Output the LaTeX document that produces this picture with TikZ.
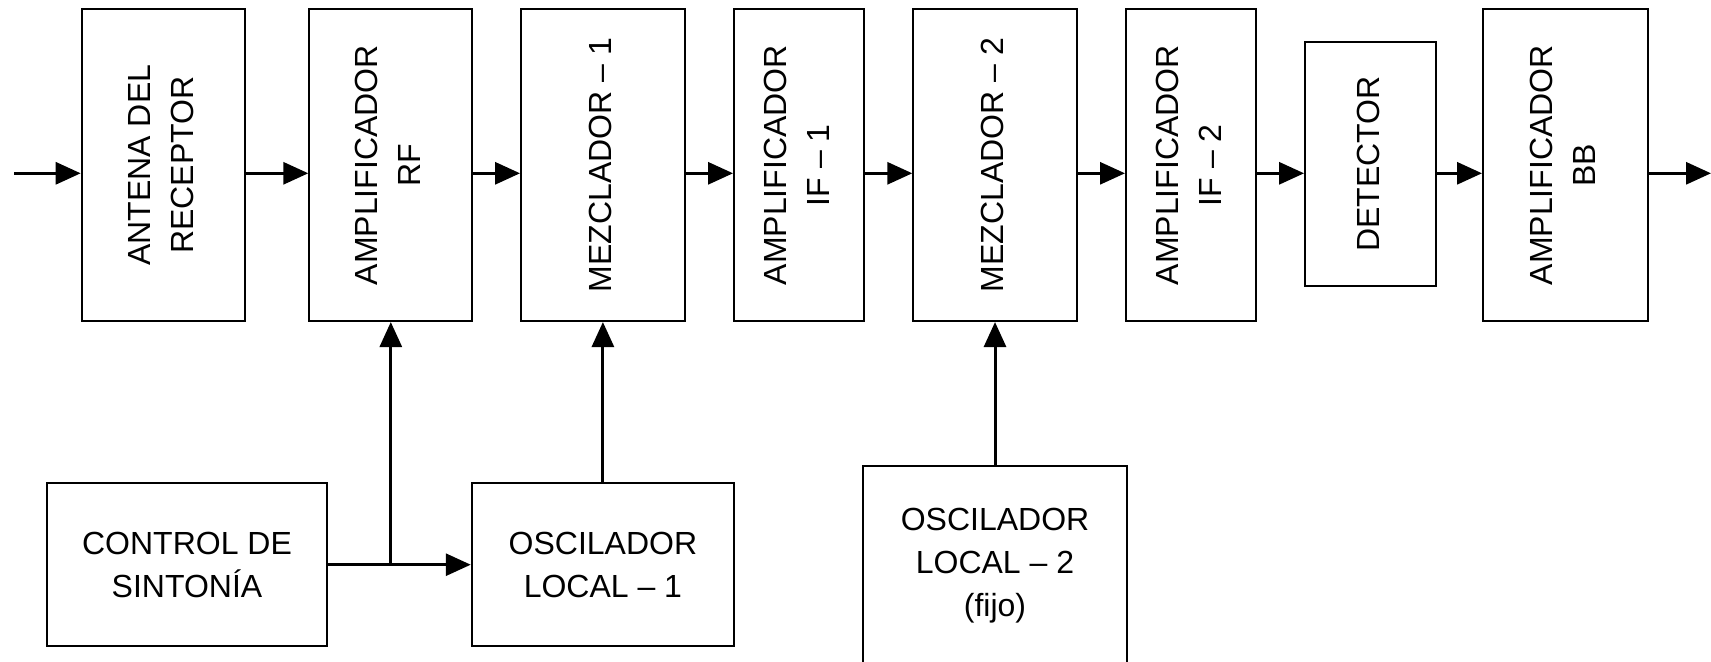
\documentclass[tikz,border=0pt]{standalone}
\usepackage{fontspec}
\setmainfont{Liberation Sans}
\usetikzlibrary{arrows.meta}
\newcommand{\vtext}[1]{\rotatebox{90}{\begin{tabular}{@{}c@{}}#1\end{tabular}}}
\begin{document}
\begin{tikzpicture}[x=0.5pt,y=-0.5pt,
  blk/.style={draw, line width=1pt, inner sep=0pt, align=center,
    font=\fontsize{16}{21.5}\selectfont},
  tall/.style={blk, minimum height=155.85pt},
  conn/.style={line width=1.5pt, -{Triangle[length=12.5pt,width=11pt]}},
  wire/.style={line width=1.5pt}]
\useasboundingbox (0,0) rectangle (1711,662);
\clip (0,0) rectangle (1711,662);
% top chain
\node[tall, minimum width=81.5pt]  (ant)  at (163.2,165.2) {\vtext{ANTENA DEL\\RECEPTOR}};
\node[tall, minimum width=81.5pt]  (rf)   at (390.8,165.2) {\vtext{AMPLIFICADOR\\RF}};
\node[tall, minimum width=81.85pt] (mez1) at (602.9,165.2) {\vtext{MEZCLADOR -- 1}};
\node[tall, minimum width=65.15pt] (if1)  at (799.2,165.2) {\vtext{AMPLIFICADOR\\IF -- 1}};
\node[tall, minimum width=81.7pt]  (mez2) at (995,165.2)   {\vtext{MEZCLADOR -- 2}};
\node[tall, minimum width=65pt]    (if2)  at (1191,165.2)  {\vtext{AMPLIFICADOR\\IF -- 2}};
\node[blk, minimum width=65.35pt, minimum height=122.15pt] (det) at (1370.4,163.9) {\vtext{DETECTOR}};
\node[tall, minimum width=82.5pt]  (bb)   at (1565.5,165.2) {\vtext{AMPLIFICADOR\\BB}};
% bottom blocks
\node[blk, minimum width=140pt, minimum height=81.35pt] (ctrl) at (187,564.7) {CONTROL DE\\SINTONÍA};
\node[blk, minimum width=131.15pt, minimum height=81.35pt] (osc1) at (602.9,564.7) {OSCILADOR\\LOCAL -- 1};
\node[blk, minimum width=131.7pt, minimum height=100.15pt] (osc2) at (995,565.9) {OSCILADOR\\LOCAL -- 2\\(fijo)};
% signal chain
\coordinate (in)  at (14,173.3);
\coordinate (out) at (1711,173.3);
\draw[conn] (in) -- (ant.west |- in);
\draw[conn] (ant.east |- in)  -- (rf.west |- in);
\draw[conn] (rf.east |- in)   -- (mez1.west |- in);
\draw[conn] (mez1.east |- in) -- (if1.west |- in);
\draw[conn] (if1.east |- in)  -- (mez2.west |- in);
\draw[conn] (mez2.east |- in) -- (if2.west |- in);
\draw[conn] (if2.east |- in)  -- (det.west |- in);
\draw[conn] (det.east |- in)  -- (bb.west |- in);
\draw[conn] (bb.east |- in)   -- (out);
% control connections
\draw[conn] (ctrl.east) -- (osc1.west);
\draw[conn] (ctrl.east -| rf.south) -- (rf.south);
\draw[conn] (osc1.north) -- (mez1.south);
\draw[conn] (osc2.north) -- (mez2.south);
\end{tikzpicture}
\end{document}
